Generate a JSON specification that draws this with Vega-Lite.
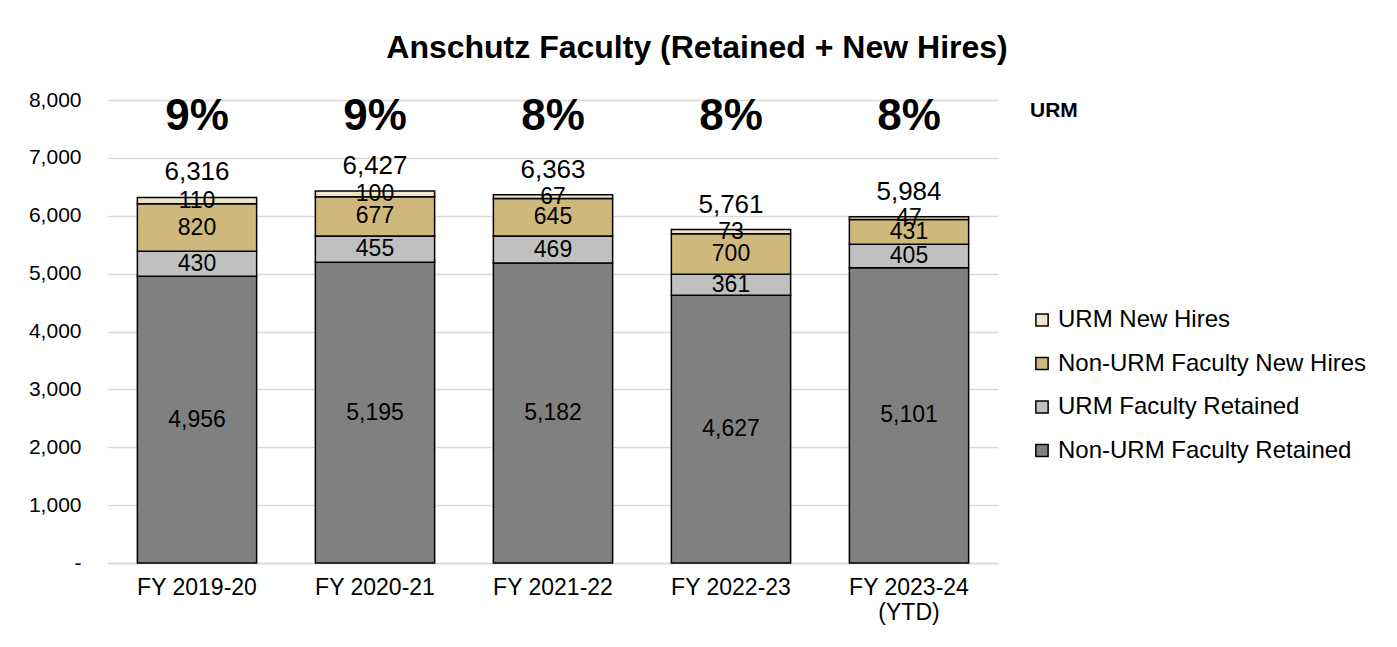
{
  "$schema": "https://vega.github.io/schema/vega-lite/v6.json",
  "width": 890,
  "height": 463,
  "autosize": {"type": "none"},
  "padding": {"left": 108, "top": 100, "right": 399, "bottom": 84},
  "background": "white",
  "config": {
    "font": "Liberation Sans",
    "view": {"stroke": null}
  },
  "title": {
    "text": "Anschutz Faculty (Retained + New Hires)",
    "fontSize": 32,
    "fontWeight": "bold",
    "color": "black",
    "anchor": "middle",
    "frame": "group",
    "dx": 144,
    "offset": 24
  },
  "datasets": {
    "segments": [
      {"year": "FY 2019-20", "category": "Non-URM Faculty Retained", "rank": 1, "value": 4956},
      {"year": "FY 2019-20", "category": "URM Faculty Retained", "rank": 2, "value": 430},
      {"year": "FY 2019-20", "category": "Non-URM Faculty New Hires", "rank": 3, "value": 820},
      {"year": "FY 2019-20", "category": "URM New Hires", "rank": 4, "value": 110},
      {"year": "FY 2020-21", "category": "Non-URM Faculty Retained", "rank": 1, "value": 5195},
      {"year": "FY 2020-21", "category": "URM Faculty Retained", "rank": 2, "value": 455},
      {"year": "FY 2020-21", "category": "Non-URM Faculty New Hires", "rank": 3, "value": 677},
      {"year": "FY 2020-21", "category": "URM New Hires", "rank": 4, "value": 100},
      {"year": "FY 2021-22", "category": "Non-URM Faculty Retained", "rank": 1, "value": 5182},
      {"year": "FY 2021-22", "category": "URM Faculty Retained", "rank": 2, "value": 469},
      {"year": "FY 2021-22", "category": "Non-URM Faculty New Hires", "rank": 3, "value": 645},
      {"year": "FY 2021-22", "category": "URM New Hires", "rank": 4, "value": 67},
      {"year": "FY 2022-23", "category": "Non-URM Faculty Retained", "rank": 1, "value": 4627},
      {"year": "FY 2022-23", "category": "URM Faculty Retained", "rank": 2, "value": 361},
      {"year": "FY 2022-23", "category": "Non-URM Faculty New Hires", "rank": 3, "value": 700},
      {"year": "FY 2022-23", "category": "URM New Hires", "rank": 4, "value": 73},
      {"year": "FY 2023-24 (YTD)", "category": "Non-URM Faculty Retained", "rank": 1, "value": 5101},
      {"year": "FY 2023-24 (YTD)", "category": "URM Faculty Retained", "rank": 2, "value": 405},
      {"year": "FY 2023-24 (YTD)", "category": "Non-URM Faculty New Hires", "rank": 3, "value": 431},
      {"year": "FY 2023-24 (YTD)", "category": "URM New Hires", "rank": 4, "value": 47}
    ],
    "totals": [
      {"year": "FY 2019-20", "total": 6316, "urm": "9%"},
      {"year": "FY 2020-21", "total": 6427, "urm": "9%"},
      {"year": "FY 2021-22", "total": 6363, "urm": "8%"},
      {"year": "FY 2022-23", "total": 5761, "urm": "8%"},
      {"year": "FY 2023-24 (YTD)", "total": 5984, "urm": "8%"}
    ]
  },
  "encoding": {
    "x": {
      "field": "year",
      "type": "nominal",
      "sort": null,
      "scale": {"paddingInner": 0.33, "paddingOuter": 0.165},
      "axis": {
        "title": null,
        "labelAngle": 0,
        "labelFontSize": 23,
        "labelColor": "black",
        "labelPadding": 13,
        "ticks": false,
        "domainColor": "#d9d9d9",
        "domainWidth": 1.5,
        "labelExpr": "datum.label == 'FY 2023-24 (YTD)' ? ['FY 2023-24', '(YTD)'] : datum.label"
      }
    }
  },
  "layer": [
    {
      "data": {"name": "segments"},
      "transform": [
        {"stack": "value", "groupby": ["year"], "sort": [{"field": "rank", "order": "ascending"}], "as": ["y0", "y1"]}
      ],
      "mark": {"type": "bar", "stroke": "black", "strokeWidth": 1.5},
      "encoding": {
        "y": {
          "field": "y1",
          "type": "quantitative",
          "scale": {"domain": [0, 8000], "nice": false},
          "axis": {
            "title": null,
            "values": [0, 1000, 2000, 3000, 4000, 5000, 6000, 7000, 8000],
            "labelExpr": "datum.value == 0 ? '-' : format(datum.value, ',')",
            "labelFontSize": 21,
            "labelColor": "black",
            "labelPadding": 27,
            "ticks": false,
            "domain": false,
            "gridColor": "#d9d9d9",
            "gridWidth": 1.5
          }
        },
        "y2": {"field": "y0"},
        "color": {
          "field": "category",
          "type": "nominal",
          "scale": {
            "domain": ["URM New Hires", "Non-URM Faculty New Hires", "URM Faculty Retained", "Non-URM Faculty Retained"],
            "range": ["#efe4c8", "#cfb87c", "#c0c0c0", "#808080"]
          },
          "legend": {
            "title": "URM",
            "orient": "right",
            "offset": 32,
            "padding": 0,
            "titleFontSize": 21,
            "titleFontWeight": "bold",
            "titleColor": "black",
            "titlePadding": 187,
            "labelFontSize": 24,
            "labelLimit": 0,
            "labelColor": "black",
            "labelOffset": 4,
            "symbolType": "square",
            "symbolSize": 150,
            "symbolStrokeColor": "black",
            "symbolStrokeWidth": 1.5,
            "rowPadding": 19.5
          }
        }
      }
    },
    {
      "data": {"name": "segments"},
      "transform": [
        {"stack": "value", "groupby": ["year"], "sort": [{"field": "rank", "order": "ascending"}], "as": ["y0", "y1"]},
        {"calculate": "(datum.y0 + datum.y1) / 2", "as": "mid"}
      ],
      "mark": {"type": "text", "fontSize": 23, "color": "black", "baseline": "middle"},
      "encoding": {
        "y": {"field": "mid", "type": "quantitative"},
        "text": {"field": "value", "type": "quantitative", "format": ","}
      }
    },
    {
      "data": {"name": "totals"},
      "mark": {"type": "text", "fontSize": 26, "color": "black", "baseline": "bottom", "dy": -12},
      "encoding": {
        "y": {"field": "total", "type": "quantitative"},
        "text": {"field": "total", "type": "quantitative", "format": ","}
      }
    },
    {
      "data": {"name": "totals"},
      "mark": {"type": "text", "fontSize": 44, "fontWeight": "bold", "color": "black", "baseline": "middle"},
      "encoding": {
        "y": {"datum": 7700},
        "text": {"field": "urm", "type": "nominal"}
      }
    }
  ]
}
